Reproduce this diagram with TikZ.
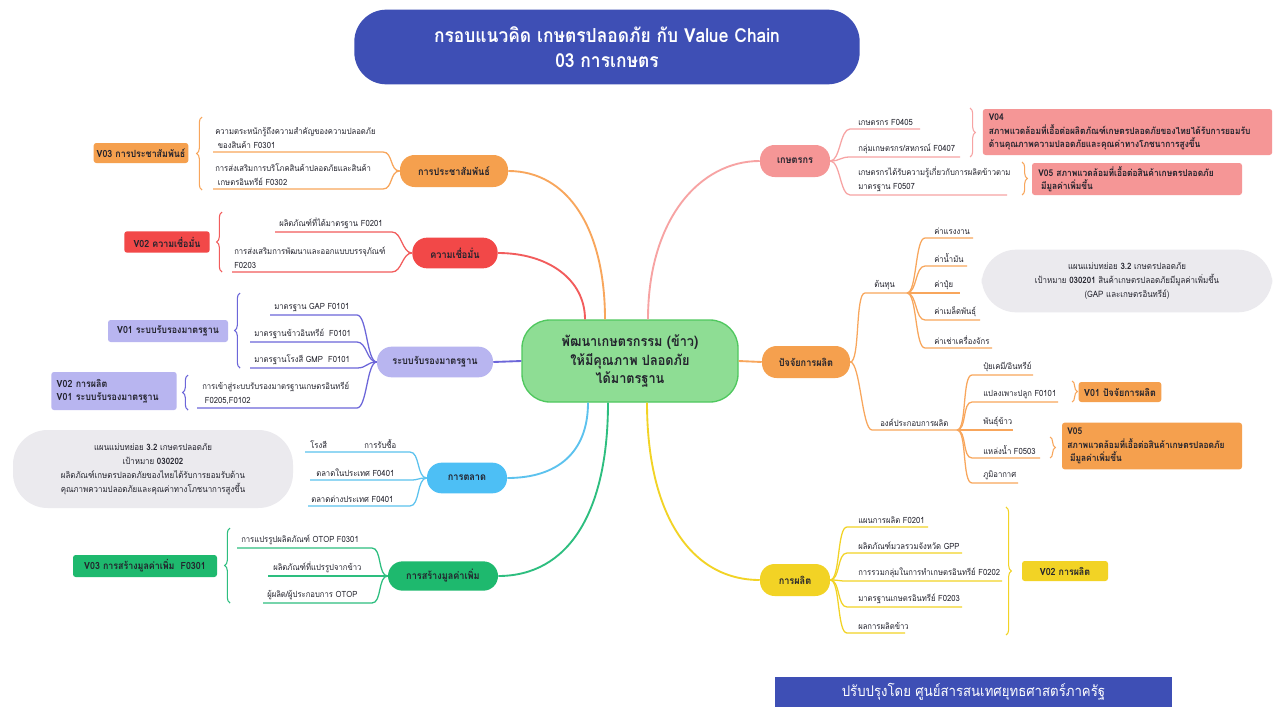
\documentclass[tikz,border=0pt]{standalone}
\usepackage{fontspec}
\setmainfont[Script=Thai,FakeStretch=0.9]{Loma}
\usetikzlibrary{calc,decorations.pathreplacing}
\definecolor{tblue}{RGB}{62,79,181}
\definecolor{cenF}{RGB}{142,221,148}
\definecolor{cenD}{RGB}{80,200,95}
\definecolor{cOr}{RGB}{248,166,92}
\definecolor{cOrF}{RGB}{245,160,78}
\definecolor{cRd}{RGB}{242,92,92}
\definecolor{cRdF}{RGB}{242,72,72}
\definecolor{cPu}{RGB}{108,102,217}
\definecolor{cPuF}{RGB}{184,181,240}
\definecolor{cBl}{RGB}{92,194,238}
\definecolor{cBlF}{RGB}{77,191,245}
\definecolor{cGr}{RGB}{45,190,127}
\definecolor{cGrF}{RGB}{30,185,110}
\definecolor{cPk}{RGB}{247,163,163}
\definecolor{cPkF}{RGB}{245,150,150}
\definecolor{cYe}{RGB}{242,211,37}
\definecolor{cGy}{RGB}{235,234,238}
\definecolor{txt}{RGB}{35,35,45}
\newcommand\LL[6]{%
  \coordinate (#1s) at (#4,#6);
  \coordinate (#1e) at (#5,#6);
  \draw[leafln,#2] (#3) .. controls +(-10,0) and +(10,0) .. (#1e) -- (#1s);}
\newcommand\RL[6]{%
  \coordinate (#1s) at (#4,#6);
  \coordinate (#1e) at (#5,#6);
  \draw[leafln,#2] (#3) .. controls +(10,0) and +(-10,0) .. (#1s) -- (#1e);}
\begin{document}
\begin{tikzpicture}[x=0.75pt,y=-0.75pt,
  lf/.style={font=\fontsize{6.4}{10.5}\selectfont, inner sep=0pt, text=txt, align=left, anchor=south west},
  br/.style={rounded corners=11pt, font=\bfseries\fontsize{7.6}{9}\selectfont, text=txt, inner sep=0pt},
  vl/.style={rounded corners=2pt, font=\bfseries\fontsize{7.4}{10}\selectfont, inner sep=0pt, text=txt},
  vb/.style={rounded corners=2pt, font=\bfseries\fontsize{7}{10}\selectfont, inner sep=0pt, text=txt, align=left},
  mainln/.style={line width=1.4pt},
  leafln/.style={line width=0.95pt},
  brc/.style={decorate, decoration={brace,amplitude=4pt}, line width=0.8pt},
  gy/.style={fill=cGy, rounded corners=26pt, font=\fontsize{6.6}{10.5}\selectfont, text=txt, align=center, inner sep=0pt}
]
\useasboundingbox (0,0) rectangle (1274,707);
\fill[white] (0,0) rectangle (1274,707);

% title
\node[fill=tblue, rounded corners=24pt, minimum width=379pt, minimum height=56pt, text=white,
  font=\bfseries\fontsize{14.5}{19}\selectfont, align=center, inner sep=0pt] (title) at (607,47)
  {กรอบแนวคิด เกษตรปลอดภัย กับ Value Chain\\03 การเกษตร};

% center
\node[fill=cenF, draw=cenD, line width=1pt, rounded corners=21pt, minimum width=162pt, minimum height=61.5pt,
  font=\bfseries\fontsize{10.6}{14}\selectfont, text=txt, align=center, inner sep=0pt] (c) at (630,361)
  {พัฒนาเกษตรกรรม (ข้าว)\\ให้มีคุณภาพ ปลอดภัย\\ได้มาตรฐาน};

% branch nodes
\node[br, fill=cOrF, minimum width=81pt, minimum height=24pt] (nPR) at (454,171) {การประชาสัมพันธ์};
\node[br, fill=cRdF, minimum width=64pt, minimum height=23pt] (nKM) at (455,253) {ความเชื่อมั่น};
\node[br, fill=cPuF, minimum width=87pt, minimum height=23pt] (nRB) at (435,362) {ระบบรับรองมาตรฐาน};
\node[br, fill=cBlF, minimum width=60pt, minimum height=23pt] (nTL) at (467,478) {การตลาด};
\node[br, fill=cGrF, minimum width=82.5pt, minimum height=22pt] (nSM) at (443,576) {การสร้างมูลค่าเพิ่ม};
\node[br, fill=cPkF, minimum width=52.5pt, minimum height=24pt] (nKK) at (795,161) {เกษตรกร};
\node[br, fill=cOrF, minimum width=66pt, minimum height=24pt] (nPJ) at (806,362) {ปัจจัยการผลิต};
\node[br, fill=cYe, minimum width=52.5pt, minimum height=24pt] (nPL) at (795,580) {การผลิต};

% main connectors
\draw[mainln,cOr] ($(c.north)+(-25,0)$) .. controls +(0,-90) and +(60,0) .. (nPR.east);
\draw[mainln,cRd] ($(c.north)+(-45,0)$) .. controls +(0,-40) and +(50,0) .. (nKM.east);
\draw[mainln,cPk] ($(c.north)+(18,0)$) .. controls +(0,-100) and +(-60,0) .. (nKK.west);
\draw[mainln,cBl] ($(c.south)+(-42,0)$) .. controls +(0,50) and +(50,0) .. (nTL.east);
\draw[mainln,cGr] ($(c.south)+(-22,0)$) .. controls +(0,110) and +(70,0) .. (nSM.east);
\draw[mainln,cYe] ($(c.south)+(17,0)$) .. controls +(0,110) and +(-70,0) .. (nPL.west);
\draw[mainln,cPu] (c.west) -- (nRB.east);
\draw[mainln,cOr] (c.east) -- (nPJ.west);

% ---- การประชาสัมพันธ์
\LL{pra}{cOr}{nPR.west}{213}{383}{152}
\LL{prb}{cOr}{nPR.west}{213}{383}{189}
\node[lf] (tpra) at (215,149) {ความตระหนักรู้ถึงความสำคัญของความปลอดภัย\\\hspace{2pt}ของสินค้า F0301};
\node[lf] (tprb) at (215,186) {การส่งเสริมการบริโภคสินค้าปลอดภัยและสินค้า\\\hspace{2pt}เกษตรอินทรีย์ F0302};
\draw[brc,cOr] (202,190) -- (202,117);
\node[vl, fill=cOrF, minimum width=71pt, minimum height=15pt] (vPR) at (141,153) {V03 การประชาสัมพันธ์};

% ---- ความเชื่อมั่น
\LL{kma}{cRd}{nKM.west}{275}{392}{232}
\LL{kmb}{cRd}{nKM.west}{232}{392}{272}
\node[lf] (tkma) at (279,229) {ผลิตภัณฑ์ที่ได้มาตรฐาน F0201};
\node[lf] (tkmb) at (234,269) {การส่งเสริมการพัฒนาและออกแบบบรรจุภัณฑ์\\F0203};
\draw[brc,cRd] (222,272) -- (222,212);
\node[vl, fill=cRdF, minimum width=64pt, minimum height=16pt] (vKM) at (167,242) {V02 ความเชื่อมั่น};

% ---- ระบบรับรองมาตรฐาน
\LL{rba}{cPu}{nRB.west}{270}{357}{315}
\LL{rbb}{cPu}{nRB.west}{250}{357}{342}
\LL{rbc}{cPu}{nRB.west}{250}{357}{368}
\LL{rbd}{cPu}{nRB.west}{197}{357}{408}
\node[lf] (trba) at (274,312) {มาตรฐาน GAP F0101};
\node[lf] (trbb) at (254,339) {มาตรฐานข้าวอินทรีย์~~F0101};
\node[lf] (trbc) at (254,365) {มาตรฐานโรงสี GMP~~F0101};
\node[lf] (trbd) at (202,405) {การเข้าสู่ระบบรับรองมาตรฐานเกษตรอินทรีย์\\\hspace{2pt}F0205,F0102};
\draw[brc,cPu] (240,368) -- (240,293);
\draw[brc,cPu] (188,410) -- (188,375);
\node[vl, fill=cPuF, minimum width=90pt, minimum height=16.5pt] (vRB1) at (168,331) {V01 ระบบรับรองมาตรฐาน};
\node[vl, fill=cPuF, minimum width=94pt, minimum height=28.5pt, align=left, text width=86pt] (vRB2) at (114,391)
  {V02 การผลิต\\V01 ระบบรับรองมาตรฐาน};

% ---- การตลาด
\LL{tla}{cBl}{nTL.west}{305}{410}{452}
\LL{tlb}{cBl}{nTL.west}{310}{410}{480}
\LL{tlc}{cBl}{nTL.west}{308}{410}{506}
\node[lf] (ttla) at (310,449) {โรงสี\hspace{28pt}การรับซื้อ};
\node[lf] (ttlb) at (316,477) {ตลาดในประเทศ F0401};
\node[lf] (ttlc) at (311,503) {ตลาดต่างประเทศ F0401};
\node[gy, minimum width=210pt, minimum height=58.5pt] (gL) at (153,469)
  {แผนแม่บทย่อย \textbf{3.2} เกษตรปลอดภัย\\เป้าหมาย \textbf{030202}\\ผลิตภัณฑ์เกษตรปลอดภัยของไทยได้รับการยอมรับด้าน\\คุณภาพความปลอดภัยและคุณค่าทางโภชนาการสูงขึ้น};

% ---- การสร้างมูลค่าเพิ่ม
\LL{sma}{cGr}{nSM.west}{237}{372}{548}
\LL{smb}{cGr}{nSM.west}{268}{372}{576}
\LL{smc}{cGr}{nSM.west}{263}{372}{603}
\node[lf] (tsma) at (241,545) {การแปรรูปผลิตภัณฑ์ OTOP F0301};
\node[lf] (tsmb) at (273,573) {ผลิตภัณฑ์ที่แปรรูปจากข้าว};
\node[lf] (tsmc) at (267,600) {ผู้ผลิต/ผู้ประกอบการ OTOP};
\draw[brc,cGr] (230,603) -- (230,528);
\node[vl, fill=cGrF, minimum width=108pt, minimum height=16.5pt] (vSM) at (145,566) {V03 การสร้างมูลค่าเพิ่ม~~F0301};

% ---- เกษตรกร
\RL{kka}{cPk}{nKK.east}{850}{920}{129}
\RL{kkb}{cPk}{nKK.east}{850}{960}{157}
\RL{kkc}{cPk}{nKK.east}{850}{1007}{195}
\node[lf] (tkka) at (858,126) {เกษตรกร F0405};
\node[lf] (tkkb) at (858,154) {กลุ่มเกษตรกร/สหกรณ์ F0407};
\node[lf] (tkkc) at (858,192) {เกษตรกรได้รับความรู้เกี่ยวกับการผลิตข้าวตาม\\มาตรฐาน F0507};
\draw[brc,cPk] (970,108) -- (970,157);
\draw[brc,cOr] (1022,162) -- (1022,195);
\node[vb, fill=cPkF, minimum width=217pt, minimum height=34.5pt, text width=208pt] (vKK1) at (1127.5,132)
  {V04\\สภาพแวดล้อมที่เอื้อต่อผลิตภัณฑ์เกษตรปลอดภัยของไทยได้รับการยอมรับ\\ด้านคุณภาพความปลอดภัยและคุณค่าทางโภชนาการสูงขึ้น};
\node[vb, fill=cPkF, minimum width=157.5pt, minimum height=24pt, text width=148pt] (vKK2) at (1137,179)
  {V05 สภาพแวดล้อมที่เอื้อต่อสินค้าเกษตรปลอดภัย\\\hspace{2pt}มีมูลค่าเพิ่มขึ้น};

% ---- ปัจจัยการผลิต
\RL{tn}{cOr}{nPJ.east}{865}{907}{293}
\RL{on}{cOr}{nPJ.east}{872}{957}{430}
\node[lf] (ttn) at (874,290) {ต้นทุน};
\node[lf] (ton) at (880,427) {องค์ประกอบการผลิต};
\RL{tna}{cOr}{tne}{925}{973}{238}
\RL{tnb}{cOr}{tne}{925}{967}{266}
\RL{tnc}{cOr}{tne}{925}{960}{293}
\RL{tnd}{cOr}{tne}{925}{980}{320}
\RL{tnf}{cOr}{tne}{925}{992}{348}
\node[lf] (ttna) at (934,235) {ค่าแรงงาน};
\node[lf] (ttnb) at (934,263) {ค่าน้ำมัน};
\node[lf] (ttnc) at (934,290) {ค่าปุ๋ย};
\node[lf] (ttnd) at (934,317) {ค่าเมล็ดพันธุ์};
\node[lf] (ttnf) at (934,345) {ค่าเช่าเครื่องจักร};
\RL{ona}{cOr}{one}{972}{1033}{375}
\RL{onb}{cOr}{one}{972}{1058}{402}
\RL{onc}{cOr}{one}{972}{1013}{430}
\RL{ond}{cOr}{one}{972}{1040}{458}
\RL{onf}{cOr}{one}{972}{1018}{483}
\node[lf] (tona) at (983,372) {ปุ๋ยเคมี/อินทรีย์};
\node[lf] (tonb) at (983,399) {แปลงเพาะปลูก F0101};
\node[lf] (tonc) at (983,427) {พันธุ์ข้าว};
\node[lf] (tond) at (983,455) {แหล่งน้ำ F0503};
\node[lf] (tonf) at (983,480) {ภูมิอากาศ};
\node[gy, minimum width=218pt, minimum height=47pt] (gR) at (1127,281)
  {แผนแม่บทย่อย \textbf{3.2} เกษตรปลอดภัย\\เป้าหมาย \textbf{030201} สินค้าเกษตรปลอดภัยมีมูลค่าเพิ่มขึ้น\\(GAP และเกษตรอินทรีย์)};
\draw[brc,cOr] (1072,381) -- (1072,402);
\draw[brc,cOr] (1050,437) -- (1050,458);
\node[vl, fill=cOrF, minimum width=62pt, minimum height=15pt] (vPJ1) at (1120,392) {V01 ปัจจัยการผลิต};
\node[vb, fill=cOrF, minimum width=135pt, minimum height=35pt, text width=127pt] (vPJ2) at (1152,446)
  {V05\\สภาพแวดล้อมที่เอื้อต่อสินค้าเกษตรปลอดภัย\\\hspace{2pt}มีมูลค่าเพิ่มขึ้น};

% ---- การผลิต
\RL{pla}{cYe}{nPL.east}{847}{928}{527}
\RL{plb}{cYe}{nPL.east}{847}{962}{553}
\RL{plc}{cYe}{nPL.east}{847}{1002}{581}
\RL{pld}{cYe}{nPL.east}{847}{962}{607}
\RL{plf}{cYe}{nPL.east}{847}{905}{633}
\node[lf] (tpla) at (858,524) {แผนการผลิต F0201};
\node[lf] (tplb) at (858,550) {ผลิตภัณฑ์มวลรวมจังหวัด GPP};
\node[lf] (tplc) at (858,578) {การรวมกลุ่มในการทำเกษตรอินทรีย์ F0202};
\node[lf] (tpld) at (858,604) {มาตรฐานเกษตรอินทรีย์ F0203};
\node[lf] (tplf) at (858,630) {ผลการผลิตข้าว};
\draw[brc,cYe] (1006,507) -- (1006,635);
\node[vl, fill=cYe, minimum width=64.5pt, minimum height=15pt] (vPL) at (1065,571) {V02 การผลิต};

% footer
\node[fill=tblue, minimum width=298pt, minimum height=22.5pt, inner sep=0pt, text=white,
  font=\fontsize{11}{12}\selectfont] (foot) at (973.5,692) {ปรับปรุงโดย ศูนย์สารสนเทศยุทธศาสตร์ภาครัฐ};
\end{tikzpicture}
\end{document}
